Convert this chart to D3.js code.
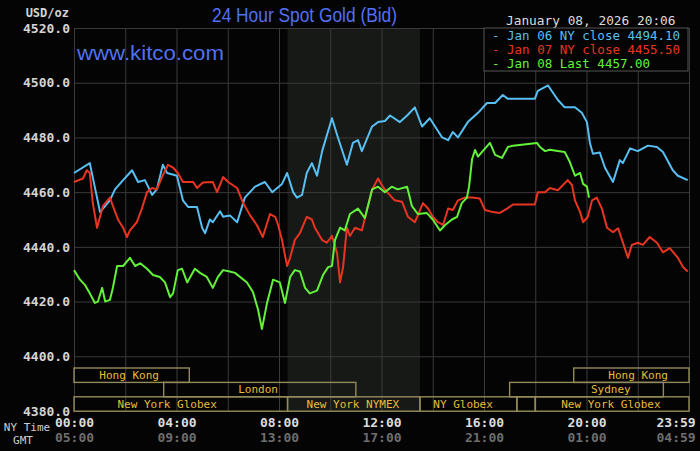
<!DOCTYPE html>
<html>
<head>
<meta charset="utf-8">
<script src="https://cdn.jsdelivr.net/npm/d3@7"></script>
<style>
html, body { margin: 0; padding: 0; background: #040404; }
svg { display: block; }
</style>
</head>
<body>
<svg id="chart" width="700" height="451"></svg>
<script>
// [minutes after NY midnight, USD/oz]
const jan06 = [[0,4467],[37,4470.6],[61,4452.7],[84,4457],[96,4461],[115,4464.4],[136,4468],[150,4463.7],[166,4464.4],[183,4459],[194,4461],[208,4470],[218,4467],[241,4466],[255,4457],[267,4454.6],[288,4454.6],[300,4447],[307,4445],[318,4450],[325,4449],[342,4453],[349,4451],[365,4451.5],[382,4449],[400,4458],[424,4462],[447,4463.7],[464,4460],[487,4463],[499,4467],[513,4460],[522,4458],[534,4459],[545,4467],[557,4470.6],[569,4466],[581,4475],[604,4487],[618,4480],[639,4470],[653,4478],[665,4479],[674,4475],[698,4484],[712,4485.6],[728,4486],[740,4488],[763,4485.6],[780,4488],[798,4491],[815,4484],[833,4487],[862,4480],[876,4479],[887,4482],[899,4480],[922,4485.6],[946,4489],[967,4492.6],[986,4492.6],[1004,4495.5],[1016,4494.1],[1079,4494.1],[1086,4497],[1110,4499],[1133,4493.7],[1149,4491],[1173,4491],[1189,4489],[1201,4485.6],[1208,4478],[1215,4474],[1231,4474.5],[1243,4469],[1262,4463.7],[1278,4471.7],[1285,4470.6],[1302,4476],[1320,4475],[1344,4477],[1365,4476.5],[1379,4474.7],[1402,4468],[1414,4466],[1437,4464.4]];

const jan07 = [[0,4463.7],[21,4465],[30,4468],[37,4467],[44,4456],[54,4447],[61,4451],[68,4455],[84,4458],[91,4455],[103,4450],[115,4447],[124,4443.6],[131,4446],[147,4449],[159,4454],[171,4460],[183,4461.5],[194,4461],[206,4465.5],[220,4470],[232,4469],[243,4467],[255,4463.7],[279,4463.7],[288,4461.5],[302,4463.5],[325,4463.7],[335,4460],[349,4465.5],[361,4463.7],[382,4461.5],[396,4456],[412,4451.6],[428,4448],[442,4443.6],[459,4452],[471,4451],[478,4448],[487,4442.5],[499,4433],[506,4436],[517,4442.5],[529,4445],[545,4451],[557,4450],[564,4447],[581,4442.5],[592,4441.5],[604,4444],[616,4437.7],[623,4427],[630,4432.6],[639,4447],[646,4444],[658,4447],[674,4446],[686,4453.5],[698,4461],[712,4465],[723,4462],[733,4460],[751,4457],[768,4456.5],[782,4451],[798,4449],[805,4451.5],[817,4456],[829,4454],[840,4451],[852,4449],[864,4448],[876,4454],[887,4453.5],[899,4457],[915,4458],[932,4458],[950,4457.7],[962,4453.5],[981,4452.7],[997,4452.4],[1014,4454],[1028,4455.5],[1079,4455.5],[1086,4460],[1103,4460],[1114,4461.5],[1133,4460.7],[1156,4464.4],[1166,4462.6],[1173,4457],[1185,4452.7],[1192,4449],[1203,4451],[1213,4457],[1224,4458],[1236,4454],[1248,4447],[1262,4445.4],[1274,4446.8],[1285,4441.7],[1297,4436],[1306,4440.7],[1320,4441.5],[1332,4440.7],[1348,4443.6],[1365,4441.5],[1379,4438],[1395,4439.5],[1414,4436],[1426,4432.6],[1437,4431]];

const jan08 = [[0,4431.5],[14,4428],[26,4426],[37,4423],[49,4419.5],[56,4420],[66,4425],[73,4420],[84,4420.6],[91,4425],[101,4433],[115,4433],[131,4436],[143,4433],[155,4434],[171,4432],[185,4429.7],[201,4429],[213,4427],[225,4421.6],[232,4423],[243,4431.5],[253,4432],[265,4427],[283,4432],[295,4430.5],[311,4429],[325,4425],[337,4429],[349,4431.5],[365,4431],[377,4430.5],[405,4427],[419,4423.5],[431,4417],[440,4410],[452,4419.5],[466,4428],[482,4427],[494,4419.5],[506,4429],[517,4431.5],[529,4431],[541,4425],[552,4423],[569,4424],[583,4429.7],[595,4432.6],[604,4433],[611,4442.5],[623,4447],[634,4446],[646,4452],[665,4454],[681,4450.5],[698,4461],[712,4462],[728,4460],[744,4462],[758,4461],[780,4462],[791,4455],[805,4452],[826,4452.4],[840,4450],[857,4446],[869,4448],[885,4450],[897,4451],[908,4456],[920,4458],[925,4462],[932,4472],[939,4475.4],[946,4473],[957,4475],[974,4478],[986,4473.6],[1002,4472.5],[1016,4476.5],[1028,4477],[1084,4478],[1091,4476.5],[1103,4475],[1114,4475.5],[1133,4475],[1149,4474.7],[1161,4471],[1173,4466],[1185,4467],[1192,4463],[1201,4462],[1206,4458]];

const seriesNames = ["Jan 06 NY close 4494.10", "Jan 07 NY close 4455.50", "Jan 08 Last 4457.00"];
const seriesColors = ["#58bff2", "#ea3422", "#62f23a"];

const priceTicks = [4380, 4400, 4420, 4440, 4460, 4480, 4500, 4520];
const timeTicks = [0, 240, 480, 720, 960, 1200, 1439];
const nyLabels = ["00:00", "04:00", "08:00", "12:00", "16:00", "20:00", "23:59"];
const gmtLabels = ["05:00", "09:00", "13:00", "17:00", "21:00", "01:00", "04:59"];

// market sessions: name, row, start, end, label centre (minutes)
const sessionNames = ["Hong Kong", "London", "New York Globex", "New York NYMEX", "NY Globex", "", "New York Globex", "Sydney", "Hong Kong"];
const sessionRows  = [0, 1, 2, 2, 2, 2, 2, 1, 0];
const sessionStart = [0, 210, 0, 500, 810, 1037, 1080, 1020, 1170];
const sessionEnd   = [270, 660, 500, 810, 1037, 1080, 1440, 1380, 1440];
const sessionLabel = [129, 431, 218, 653, 911, 0, 1257, 1257, 1321];
const nymexOpen = [500, 810];

const svg = d3.select("#chart");
const pLeft = 74, pRight = 689, pTop = 28, pBottom = 411;

const x = d3.scaleLinear().domain([0, 1440]).range([pLeft, pRight]);
const y = d3.scaleLinear().domain([4380, 4520]).range([pBottom, pTop]);

svg.append("rect").attr("width", 700).attr("height", 451).attr("fill", "#040404");

// NYMEX hours shading
svg.append("rect")
    .attr("x", x(nymexOpen[0]))
    .attr("y", pTop)
    .attr("width", x(nymexOpen[1]) - x(nymexOpen[0]))
    .attr("height", pBottom - pTop)
    .attr("fill", "#161916");

// grid
svg.append("g")
    .attr("transform", `translate(0,${pTop})`)
    .call(d3.axisBottom(x).tickValues(d3.range(0, 1441, 120)).tickSize(pBottom - pTop).tickFormat(""))
    .call(g => g.select(".domain").remove())
    .call(g => g.selectAll(".tick line").attr("stroke", "#3a3a3a"));

svg.append("g")
    .attr("transform", `translate(${pLeft},0)`)
    .call(d3.axisLeft(y).tickValues(priceTicks).tickSize(-(pRight - pLeft)).tickPadding(4).tickFormat(d3.format(".1f")))
    .call(g => g.select(".domain").remove())
    .call(g => g.selectAll(".tick line").attr("stroke", "#3a3a3a"))
    .call(g => g.selectAll(".tick text")
        .attr("fill", "#d4d4d4")
        .style("font", "bold 13px 'DejaVu Sans Mono', monospace"));

svg.append("text")
    .attr("x", 69).attr("y", 17)
    .attr("text-anchor", "end")
    .attr("fill", "#d4d4d4")
    .style("font", "bold 12px 'DejaVu Sans Mono', monospace")
    .text("USD/oz");

// sessions
const rowTop = 368, rowH = 14.4;
const sess = svg.append("g");
sessionNames.forEach((name, i) => {
    const r = sessionRows[i];
    sess.append("rect")
        .attr("x", x(sessionStart[i]))
        .attr("y", rowTop + r * rowH)
        .attr("width", x(sessionEnd[i]) - x(sessionStart[i]))
        .attr("height", rowH)
        .attr("fill", "none")
        .attr("stroke", "#928a5a")
        .attr("stroke-width", 1.4);
    if (name) {
        sess.append("text")
            .attr("x", x(sessionLabel[i]))
            .attr("y", rowTop + r * rowH + 11)
            .attr("text-anchor", "middle")
            .attr("fill", "#e6bd3c")
            .style("font", "11px 'DejaVu Sans Mono', monospace")
            .text(name);
    }
});

// price lines
const line = d3.line().x(d => x(d[0])).y(d => y(d[1]));
[jan06, jan07, jan08].forEach((s, i) => {
    svg.append("path")
        .datum(s)
        .attr("fill", "none")
        .attr("stroke", seriesColors[i])
        .attr("stroke-width", 2)
        .attr("stroke-linejoin", "round")
        .attr("d", line);
});

// time axis
const tAxis = svg.append("g")
    .attr("transform", `translate(0,${pBottom})`)
    .call(d3.axisBottom(x).tickValues(timeTicks).tickSize(0).tickPadding(7).tickFormat((d, i) => nyLabels[i]))
    .call(g => g.select(".domain").remove());
tAxis.selectAll(".tick text")
    .attr("fill", "#dcdcdc")
    .attr("dx", d => d === 1439 ? -13 : 0)
    .style("font", "bold 13px 'DejaVu Sans Mono', monospace");

const gAxis = svg.append("g")
    .attr("transform", `translate(0,${pBottom + 15})`)
    .call(d3.axisBottom(x).tickValues(timeTicks).tickSize(0).tickPadding(7).tickFormat((d, i) => gmtLabels[i]))
    .call(g => g.select(".domain").remove());
gAxis.selectAll(".tick text")
    .attr("fill", "#6e6e6e")
    .attr("dx", d => d === 1439 ? -13 : 0)
    .style("font", "bold 13px 'DejaVu Sans Mono', monospace");

svg.append("text").attr("x", 27).attr("y", 431).attr("text-anchor", "middle")
    .attr("fill", "#cfcfcf").style("font", "11px 'DejaVu Sans Mono', monospace").text("NY Time");
svg.append("text").attr("x", 23).attr("y", 444).attr("text-anchor", "middle")
    .attr("fill", "#cfcfcf").style("font", "11px 'DejaVu Sans Mono', monospace").text("GMT");

// titles
svg.append("text")
    .attr("x", 212).attr("y", 22)
    .attr("fill", "#5170f2")
    .attr("textLength", 185).attr("lengthAdjust", "spacingAndGlyphs")
    .style("font", "20px 'Liberation Sans', Arial, sans-serif")
    .text("24 Hour Spot Gold (Bid)");

svg.append("text")
    .attr("x", 77).attr("y", 60)
    .attr("fill", "#5170f2")
    .attr("textLength", 147).attr("lengthAdjust", "spacingAndGlyphs")
    .style("font", "20px 'Liberation Sans', Arial, sans-serif")
    .text("www.kitco.com");

svg.append("text")
    .attr("x", 506).attr("y", 25)
    .attr("fill", "#dcdcdc")
    .style("font", "12.8px 'DejaVu Sans Mono', monospace")
    .text("January 08, 2026 20:06");

// legend
svg.append("rect")
    .attr("x", 484).attr("y", pTop)
    .attr("width", 204).attr("height", 43)
    .attr("fill", "#040404")
    .attr("stroke", "#555")
    .attr("stroke-width", 1);

seriesNames.forEach((name, i) => {
    svg.append("text")
        .attr("x", 492).attr("y", 40 + i * 14)
        .attr("fill", seriesColors[i])
        .style("font", "12.5px 'DejaVu Sans Mono', monospace")
        .text("- " + name);
});
</script>
</body>
</html>
